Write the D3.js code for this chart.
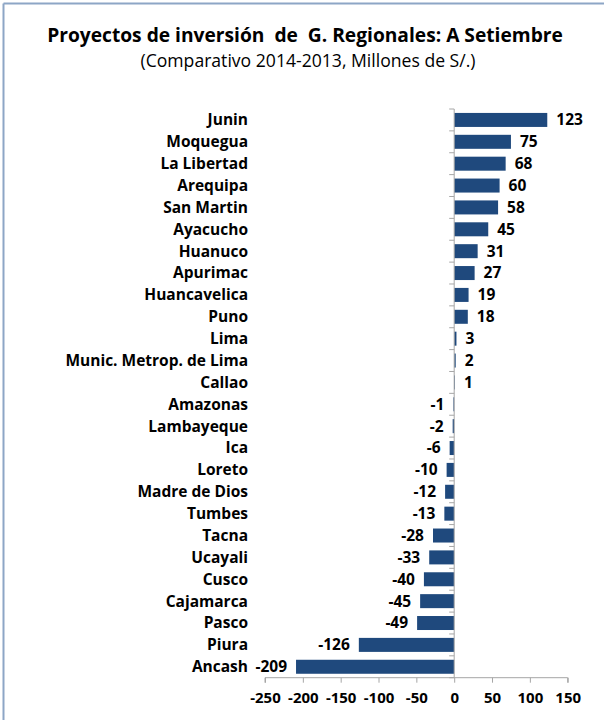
<!DOCTYPE html>
<html><head><meta charset="utf-8">
<script src="https://cdn.jsdelivr.net/npm/d3@7"></script>
<style>body{margin:0;background:#fff}svg{display:block}text{white-space:pre}</style>
</head><body>
<script>
const categories = ["Junin","Moquegua","La Libertad","Arequipa","San Martin","Ayacucho","Huanuco","Apurimac","Huancavelica","Puno","Lima","Munic. Metrop. de Lima","Callao","Amazonas","Lambayeque","Ica","Loreto","Madre de Dios","Tumbes","Tacna","Ucayali","Cusco","Cajamarca","Pasco","Piura","Ancash"];
const values = [123,75,68,60,58,45,31,27,19,18,3,2,1,-1,-2,-6,-10,-12,-13,-28,-33,-40,-45,-49,-126,-209];
const xTicks = [-250,-200,-150,-100,-50,0,50,100,150];
const title = "Proyectos de inversión  de  G. Regionales: A Setiembre";
const subtitle = "(Comparativo 2014-2013, Millones de S/.)";

const W = 604, H = 720;
const svg = d3.select("body").append("svg").attr("width", W).attr("height", H);
const font = "'Open Sans', sans-serif";

svg.append("line").attr("x1",3.5).attr("x2",W).attr("y1",3.5).attr("y2",3.5).attr("stroke","#8da6c6").attr("stroke-width",2);
svg.append("line").attr("x1",3.5).attr("x2",3.5).attr("y1",3.5).attr("y2",H).attr("stroke","#8da6c6").attr("stroke-width",2);

svg.append("text").attr("x",305).attr("y",42).attr("text-anchor","middle")
  .attr("font-family",font).attr("font-weight","bold").attr("font-size",19.2).attr("fill","#000").text(title);
svg.append("text").attr("x",308).attr("y",67).attr("text-anchor","middle")
  .attr("font-family",font).attr("font-size",17.6).attr("fill","#000").text(subtitle);

const x = d3.scaleLinear().domain([-250,150]).range([265,567.7]);
const y = d3.scaleBand().domain(categories).range([109,677.7]);

svg.selectAll("rect.bar").data(categories).join("rect")
  .attr("x",(d,i)=>x(Math.min(0,values[i])))
  .attr("width",(d,i)=>Math.abs(x(values[i])-x(0)))
  .attr("y",d=>y(d)+(y.bandwidth()-14)/2)
  .attr("height",14)
  .attr("fill","#1f497d");

const ax = svg.append("g");
ax.append("line").attr("x1",x(0)).attr("x2",x(0)).attr("y1",y.range()[0]).attr("y2",y.range()[1]).attr("stroke","#a6a6a6");
ax.selectAll("line.ct").data(d3.range(categories.length+1)).join("line")
  .attr("x1",x(0)-5).attr("x2",x(0))
  .attr("y1",i=>y.range()[0]+i*y.step()).attr("y2",i=>y.range()[0]+i*y.step())
  .attr("stroke","#a6a6a6");

const xa = svg.append("g").attr("transform",`translate(0,${y.range()[1]})`)
  .call(d3.axisBottom(x).tickValues(xTicks).tickSize(5).tickPadding(10).tickFormat(d3.format("d")));
xa.select(".domain").attr("stroke","#a6a6a6").attr("d",`M${x(-250)},5V0H${x(150)}V5`);
xa.selectAll(".tick line").attr("stroke","#a6a6a6");
xa.selectAll(".tick text").attr("font-family",font).attr("font-weight","bold").attr("font-size",15).attr("fill","#000").text(d=>String(d));

svg.selectAll("text.cat").data(categories).join("text")
  .attr("x",248).attr("y",d=>y(d)+y.bandwidth()/2).attr("dy","0.35em")
  .attr("text-anchor","end").attr("font-family",font).attr("font-weight","bold").attr("font-size",15.5).attr("fill","#000")
  .text(d=>d);

svg.selectAll("text.val").data(categories).join("text")
  .attr("x",(d,i)=>values[i]>=0 ? x(values[i])+9 : x(values[i])-9)
  .attr("y",d=>y(d)+y.bandwidth()/2).attr("dy","0.35em")
  .attr("text-anchor",(d,i)=>values[i]>=0?"start":"end")
  .attr("font-family",font).attr("font-weight","bold").attr("font-size",15.5).attr("fill","#000")
  .text((d,i)=>values[i]);
</script>
</body></html>
